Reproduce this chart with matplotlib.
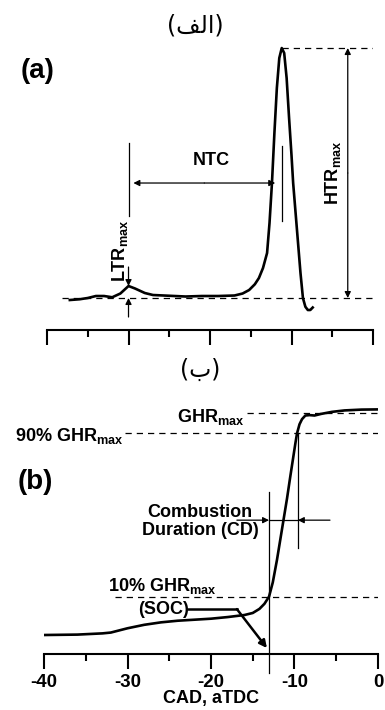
import numpy as np
import matplotlib
matplotlib.use("Agg")
import matplotlib.pyplot as plt
from matplotlib.ticker import MultipleLocator

plt.rcParams['font.family'] = ['Liberation Sans', 'DejaVu Sans']
plt.rcParams['font.weight'] = 'bold'
plt.rcParams['mathtext.fontset'] = 'custom'
plt.rcParams['mathtext.rm'] = 'Liberation Sans:bold'
plt.rcParams['mathtext.bf'] = 'Liberation Sans:bold'
plt.rcParams['mathtext.it'] = 'Liberation Sans:bold'

# (a) heat release rate trace
hrr_cad = [-37.2, -36, -35, -34, -33, -32, -31, -30, -29.2, -28, -27, -25, -23, -21,
           -19, -17, -16, -15.2, -14.5, -14, -13.5, -13.0, -12.7, -12.4, -12.1, -11.8,
           -11.5, -11.2, -10.9, -10.6, -10.3, -10.0, -9.8, -9.5, -9.2, -8.9, -8.6,
           -8.3, -8.0, -7.7, -7.4]
hrr_val = [-0.8, -0.5, 0.0, 0.8, 0.8, 0.3, 1.8, 4.8, 3.8, 2.0, 1.2, 0.9, 0.6, 0.8,
           0.8, 1.0, 1.8, 3.2, 5.5, 8.0, 12.0, 18.0, 30.0, 46.0, 66.0, 84.0,
           96.0, 100.0, 98.0, 88.0, 72.0, 57.0, 46.0, 34.0, 22.0, 10.0, 0.0,
           -3.5, -4.8, -4.8, -3.8]

# (b) gross heat release trace
ghr_cad = [-40, -36, -33, -32, -30, -28, -26, -24, -22, -20, -18, -16, -15, -14.2,
           -13.6, -13.05, -12.6, -12.1, -11.7, -11.3, -10.9, -10.5, -10.2, -9.9,
           -9.7, -9.4, -9.1, -8.7, -8.2, -7.6, -6.8, -5.5, -4, -2, 0]
ghr_val = [-8.8, -8.6, -8.0, -7.6, -5.5, -3.8, -2.6, -1.8, -1.3, -0.8, 0.0, 1.0, 2.0,
           4.0, 6.5, 10.0, 17.0, 28.0, 38.0, 48.0, 58.0, 69.0, 77.0, 85.0, 90.0,
           94.5, 97.0, 98.8, 99.0, 98.8, 99.6, 100.6, 101.3, 101.7, 101.8]

x_ticks = [-40, -30, -20, -10, 0]
ltr_cad, ltr_peak = -30.0, 4.8
htr_cad, htr_peak = -11.2, 100.0
soc_cad, ca90_cad = -13.05, -9.6

fs = 13  # annotation font size

fig = plt.figure(figsize=(3.85, 7.10), dpi=100)
ax1 = fig.add_axes([0.1221, 0.5352, 0.8468, 0.4225])
ax2 = fig.add_axes([0.1143, 0.0789, 0.8675, 0.3577])

for ax in (ax1, ax2):
    for s in ('top', 'right', 'left'):
        ax.spines[s].set_visible(False)
    ax.spines['bottom'].set_linewidth(1.5)
    ax.set_xlim(-40, 0)
    ax.set_yticks([])
    ax.xaxis.set_major_locator(MultipleLocator(10))
    ax.xaxis.set_minor_locator(MultipleLocator(5))
    ax.tick_params(axis='x', which='major', length=11, width=1.5, direction='out')
    ax.tick_params(axis='x', which='minor', length=5, width=1.5, direction='out')

ax1.set_ylim(-12.8, 107.2)
ax1.set_xticklabels([])
ax2.set_ylim(-18.1, 106.4)
ax2.set_xticks(x_ticks)
ax2.set_xticklabels([str(t) for t in x_ticks], fontsize=13.5, fontweight='bold')
ax2.set_xlabel('CAD, aTDC', fontsize=fs, fontweight='bold', labelpad=-1)

dash = dict(color='black', lw=0.9, ls=(0, (5, 4)))
head = dict(arrowstyle='-|>', color='black', lw=0.9, mutation_scale=9, shrinkA=0, shrinkB=0)

# ---- panel (a)
ax1.plot(hrr_cad, hrr_val, color='black', lw=1.9)
ax1.plot([-38.1, 0], [0, 0], **dash)
ax1.plot([htr_cad, 0], [htr_peak, htr_peak], **dash)
ax1.annotate('', xy=(-3.1, htr_peak), xytext=(-3.1, 50), arrowprops=head)
ax1.annotate('', xy=(-3.1, 0), xytext=(-3.1, 50), arrowprops=head)
ax1.text(-4.9, 50, r'$\mathbf{HTR_{max}}$', rotation=90, ha='center', va='center', fontsize=fs)

ax1.plot([ltr_cad, ltr_cad], [33, 62], color='black', lw=0.9)
ax1.annotate('', xy=(ltr_cad, ltr_peak), xytext=(ltr_cad, 12.4), arrowprops=head)
ax1.annotate('', xy=(ltr_cad, 0), xytext=(ltr_cad, -7.6), arrowprops=head, annotation_clip=False)
ax1.text(-31.0, 19.0, r'$\mathbf{LTR_{max}}$', rotation=90, ha='center', va='center', fontsize=fs)

ax1.annotate('', xy=(-29.4, 46), xytext=(-20.7, 46), arrowprops=head)
ax1.annotate('', xy=(-12.0, 46), xytext=(-20.7, 46), arrowprops=head)
ax1.plot([htr_cad, htr_cad], [31, 61], color='black', lw=0.9)
ax1.text(-19.8, 55, 'NTC', ha='center', va='center', fontsize=fs, fontweight='bold')

ax1.text(-41.1, 90.8, '(a)', ha='center', va='center', fontsize=20, fontweight='bold')
fig.text(195 / 385, 1 - 25 / 710, '(\uFED2\uFEDF\uFE8D)', ha='center', va='center',
         fontsize=17, fontweight='normal', family=['DejaVu Sans'])

# ---- panel (b)
ax2.plot(ghr_cad, ghr_val, color='black', lw=1.9)
ax2.plot([-15.7, 0], [100, 100], **dash)
ax2.plot([-30.3, 0], [90, 90], **dash)
ax2.plot([-31.5, 0], [10, 10], **dash)
ax2.text(-16.0, 95.6, r'$\mathbf{GHR_{max}}$', ha='right', va='baseline', fontsize=fs)
ax2.text(-43.5, 86.3, r'$\mathbf{90\%\ GHR_{max}}$', ha='left', va='baseline', fontsize=fs)
ax2.text(-32.3, 12.7, r'$\mathbf{10\%\ GHR_{max}}$', ha='left', va='baseline', fontsize=fs)

ax2.plot([soc_cad, soc_cad], [61.3, -27.5], color='black', lw=0.9, clip_on=False)
ax2.plot([ca90_cad, ca90_cad], [90, 34], color='black', lw=0.9)
ax2.annotate('', xy=(soc_cad, 47.5), xytext=(-16.9, 47.5), arrowprops=head)
ax2.annotate('', xy=(ca90_cad, 47.5), xytext=(-5.75, 47.5), arrowprops=head)
ax2.plot([soc_cad, ca90_cad], [47.5, 47.5], color='black', lw=0.9)
ax2.text(-21.3, 47, 'Combustion\nDuration (CD)', ha='center', va='center',
         fontsize=fs, fontweight='bold', linespacing=1.1)

ax2.text(-25.7, 3.9, '(SOC)', ha='center', va='center', fontsize=fs, fontweight='bold')
ax2.plot([-22.8, -16.9], [3.9, 3.9], color='black', lw=1.8)
ax2.annotate('', xy=(-13.3, -15.2), xytext=(-16.9, 3.9),
             arrowprops=dict(arrowstyle='-|>', color='black', lw=1.8, mutation_scale=11,
                             shrinkA=0, shrinkB=0))

ax2.text(-41.1, 66, '(b)', ha='center', va='center', fontsize=20, fontweight='bold')
fig.text(200 / 385, 1 - 370 / 710, '(\uFE8F)', ha='center', va='center',
         fontsize=17, fontweight='normal', family=['DejaVu Sans'])

fig.savefig('out.png', dpi=100)
